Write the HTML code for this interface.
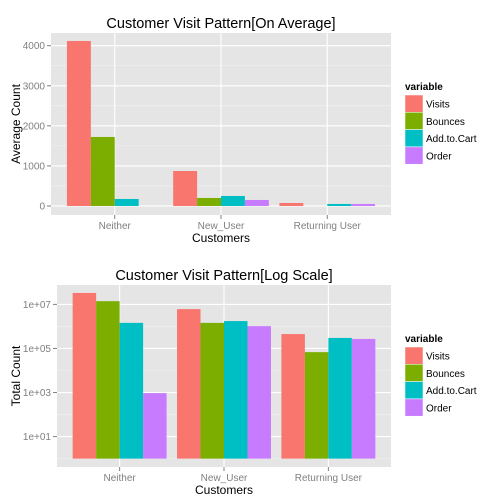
<!DOCTYPE html>
<html><head><meta charset="utf-8"><style>
body{margin:0;background:#fff;}
svg{display:block;font-family:"Liberation Sans",sans-serif;}
</style></head><body>
<svg id="c" width="504" height="504" xmlns="http://www.w3.org/2000/svg"></svg>
<script>
const categories = ["Neither","New_User","Returning User"];
const seriesNames = ["Visits","Bounces","Add.to.Cart","Order"];
const colors = ["#F8766D","#7CAE00","#00BFC4","#C77CFF"];
const avgVisits = [4118, 873, 75];
const avgBounces = [1722, 200, 0];
const avgCart = [175, 250, 50];
const avgOrder = [0, 150, 50];
const totVisits = [3.3e7, 6.1e6, 4.5e5];
const totBounces = [1.4e7, 1.45e6, 6.8e4];
const totCart = [1.45e6, 1.75e6, 3.0e5];
const totOrder = [940, 1.03e6, 2.7e5];
const avgTicks = [0,1000,2000,3000,4000];
const avgTickLabels = ["0","1000","2000","3000","4000"];
const logTicks = [10,1e3,1e5,1e7];
const logTickLabels = ["1e+01","1e+03","1e+05","1e+07"];

const svg = document.getElementById('c');
const NS = "http://www.w3.org/2000/svg";
function mk(tag, attrs, name){
  const e = document.createElementNS(NS, tag);
  for (const k in attrs) e.setAttribute(k, attrs[k]);
  
  
  svg.appendChild(e);
  return e;
}
function txt(s, attrs, name){ const t = mk('text', attrs, name); t.textContent = s; return t; }

function panel(o){
  const {L,R,T,B,yFn,ticks,labels,minor,series,base,title,ytitle,legY,key} = o;
  mk('rect',{x:L,y:T,width:R-L,height:B-T,fill:'#E5E5E5'},key+'-panel');
  minor.forEach(v=>mk('line',{x1:L,x2:R,y1:yFn(v),y2:yFn(v),stroke:'#F2F2F2','stroke-width':0.6},key+'-minor-grid'));
  ticks.forEach(v=>mk('line',{x1:L,x2:R,y1:yFn(v),y2:yFn(v),stroke:'#fff','stroke-width':1.1},key+'-major-grid'));
  const W = R-L, u = W/3.2;
  const xc = i => L + u*(i+0.6);
  categories.forEach((c,i)=>{
    mk('line',{x1:xc(i),x2:xc(i),y1:T,y2:B,stroke:'#fff','stroke-width':1.1},key+'-x-grid');
    mk('line',{x1:xc(i),x2:xc(i),y1:B,y2:B+4,stroke:'#7f7f7f'},key+'-x-tick');
    txt(c,{x:xc(i),y:B+14,'font-size':10,fill:'#7f7f7f','text-anchor':'middle'},key+'-x-tick-label');
  });
  const bw = u*0.9/4;
  series.forEach((arr,s)=>{
    arr.forEach((v,i)=>{
      const x = xc(i) - u*0.45 + s*bw;
      const y0 = yFn(base), y1 = yFn(v);
      mk('rect',{x:x,y:Math.min(y0,y1),width:bw,height:Math.abs(y0-y1),fill:colors[s]},key+'-bar-'+seriesNames[s].toLowerCase().replace(/\./g,'-')+'-'+i);
    });
  });
  ticks.forEach((v,i)=>{
    mk('line',{x1:L-4,x2:L,y1:yFn(v),y2:yFn(v),stroke:'#7f7f7f'},key+'-y-tick');
    txt(labels[i],{x:L-6,y:yFn(v)+3.5,'font-size':10,fill:'#7f7f7f','text-anchor':'end'},key+'-y-tick-label');
  });
  txt(title,{x:(L+R)/2,y:T-5,'font-size':14.5,fill:'#000','text-anchor':'middle'},key+'-title');
  txt('Customers',{x:(L+R)/2,y:B+27,'font-size':12,fill:'#000','text-anchor':'middle'},key+'-x-axis-title');
  txt(ytitle,{x:0,y:0,'font-size':12,fill:'#000','text-anchor':'middle',transform:'translate(20,'+((T+B)/2)+') rotate(-90)'},key+'-y-axis-title');
  txt('variable',{x:405,y:legY,'font-size':10,'font-weight':'bold',fill:'#000'},key+'-legend-title');
  seriesNames.forEach((nm,s)=>{
    const y = legY+5+s*17.3;
    mk('rect',{x:405,y:y,width:18,height:17.3,fill:colors[s],stroke:'#fff','stroke-width':0.5},key+'-legend-key');
    txt(nm,{x:426,y:y+12.5,'font-size':10,fill:'#000'},key+'-legend-label');
  });
}

const tT=33,tB=215, tMin=-225, tMax=4317;
panel({L:51,R:391,T:tT,B:tB,key:'avg',
  yFn:v=>tB-(v-tMin)/(tMax-tMin)*(tB-tT),
  ticks:avgTicks,labels:avgTickLabels,minor:[500,1500,2500,3500],
  series:[avgVisits,avgBounces,avgCart,avgOrder],base:0,
  title:'Customer Visit Pattern[On Average]',ytitle:'Average Count',legY:90});

const bT=285,bB=467,lMin=-0.38,lMax=7.88;
panel({L:57,R:391,T:bT,B:bB,key:'log',
  yFn:v=>bB-(Math.log10(v)-lMin)/(lMax-lMin)*(bB-bT),
  ticks:logTicks,labels:logTickLabels,minor:[1,100,1e4,1e6],
  series:[totVisits,totBounces,totCart,totOrder],base:1,
  title:'Customer Visit Pattern[Log Scale]',ytitle:'Total Count',legY:342});
</script>
</body></html>
